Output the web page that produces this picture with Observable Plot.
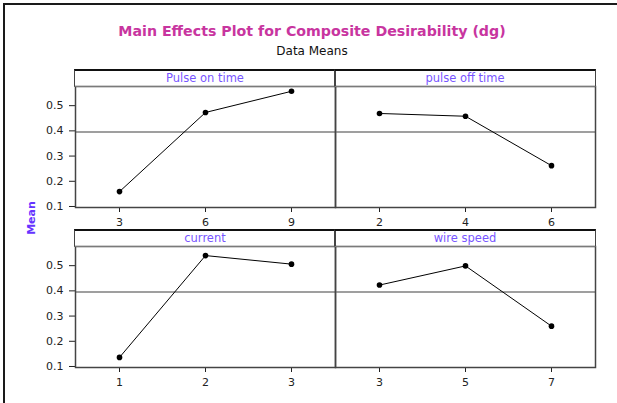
<!DOCTYPE html>
<html>
<head>
<meta charset="utf-8">
<script src="https://cdn.jsdelivr.net/npm/d3@7"></script>
<script src="https://cdn.jsdelivr.net/npm/@observablehq/plot@0.6"></script>
<style>
  html, body { margin: 0; padding: 0; background: #fff; }
  #wrap { position: relative; width: 617px; height: 403px; overflow: hidden; font-family: "DejaVu Sans", sans-serif; }
  #outer { position: absolute; left: 3px; top: 3px; width: 700px; height: 500px; border-left: 2px solid #1a1a1a; border-top: 2px solid #1a1a1a; }
  .title { position: absolute; left: 0; width: 624px; text-align: center; white-space: nowrap; }
  #t1 { top: 23px; font-size: 14.2px; line-height: 17px; font-weight: bold; color: #c8359f; }
  #t2 { top: 44px; font-size: 12px; line-height: 14px; color: #111; }
  .hdr { position: absolute; box-sizing: border-box; height: 18px; border-top: 2px solid #111; border-left: 1.5px solid #444; border-right: 1.5px solid #444; border-bottom: 1.5px solid #7a7a7a; text-align: center; font-size: 11.5px; line-height: 14px; color: #7755ff; }
  #mean { position: absolute; left: 31px; top: 218px; transform: translate(-50%, -50%) rotate(-90deg); font-size: 11px; font-weight: bold; color: #6633ff; white-space: nowrap; }
</style>
</head>
<body>
<div id="wrap">
  <div id="outer"></div>
  <div class="title" id="t1">Main Effects Plot for Composite Desirability (dg)</div>
  <div class="title" id="t2">Data Means</div>
  <div id="mean">Mean</div>
</div>
<script>
// ---- data ----
const factorNames = ["Pulse on time", "pulse off time", "current", "wire speed"];
const pulseOnLevels = [3, 6, 9];
const pulseOnMeans = [0.159, 0.473, 0.557];
const pulseOffLevels = [2, 4, 6];
const pulseOffMeans = [0.469, 0.458, 0.262];
const currentLevels = [1, 2, 3];
const currentMeans = [0.136, 0.540, 0.506];
const wireSpeedLevels = [3, 5, 7];
const wireSpeedMeans = [0.423, 0.499, 0.260];
const yTicks = [0.1, 0.2, 0.3, 0.4, 0.5];
const yDomain = [0.096, 0.576];

const grandMean = d3.mean([...pulseOnMeans, ...pulseOffMeans, ...currentMeans, ...wireSpeedMeans]);

// ---- layout ----
const W = 617;
const cols = [[75, 335], [335, 595]];
const rows = [{hdrTop: 69, top: 86, bottom: 207, height: 237}, {hdrTop: 229, top: 246, bottom: 367, height: 403}];

const panels = [
  {name: factorNames[0], levels: pulseOnLevels, means: pulseOnMeans, col: 0, row: 0},
  {name: factorNames[1], levels: pulseOffLevels, means: pulseOffMeans, col: 1, row: 0},
  {name: factorNames[2], levels: currentLevels, means: currentMeans, col: 0, row: 1},
  {name: factorNames[3], levels: wireSpeedLevels, means: wireSpeedMeans, col: 1, row: 1}
];

const wrap = document.getElementById("wrap");

for (const p of panels) {
  const [x0, x1] = cols[p.col];
  const r = rows[p.row];
  const data = p.levels.map((lv, i) => ({level: lv, mean: p.means[i]}));
  const chart = Plot.plot({
    width: W,
    height: r.height,
    marginLeft: x0,
    marginRight: W - x1,
    marginTop: r.top,
    marginBottom: r.height - r.bottom,
    style: {fontFamily: "DejaVu Sans, sans-serif", fontSize: "11px", color: "#222", background: "transparent", overflow: "visible"},
    x: {type: "point", domain: p.levels, padding: 0.5, label: null, tickSize: 5, tickPadding: 6},
    y: p.col === 0
      ? {domain: yDomain, ticks: yTicks, tickFormat: ".1f", tickSize: 6, tickPadding: 6, label: null}
      : {domain: yDomain, axis: null},
    marks: [
      Plot.ruleY([grandMean], {stroke: "#7f7f7f", strokeWidth: 1.5}),
      Plot.line(data, {x: "level", y: "mean", stroke: "#000", strokeWidth: 1}),
      Plot.dot(data, {x: "level", y: "mean", r: 2.8, fill: "#000", stroke: "none"}),
      Plot.frame({stroke: "#444", strokeWidth: 1.5})
    ]
  });
  chart.style.position = "absolute";
  chart.style.left = "0px";
  chart.style.top = "0px";
  wrap.appendChild(chart);

  const hdr = document.createElement("div");
  hdr.className = "hdr";
  hdr.style.left = (x0 - 0.75) + "px";
  hdr.style.top = r.hdrTop + "px";
  hdr.style.width = (x1 - x0 + 1.5) + "px";
  hdr.textContent = p.name;
  wrap.appendChild(hdr);
}
</script>
</body>
</html>
